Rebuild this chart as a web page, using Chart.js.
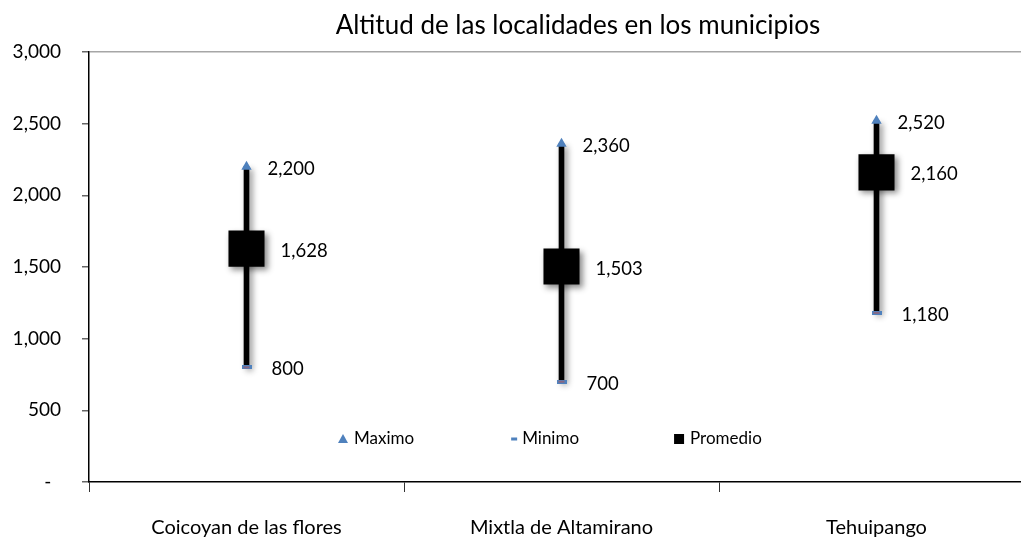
<!DOCTYPE html>
<html>
<head>
<meta charset="UTF-8">
<title>Altitud de las localidades en los municipios</title>
<script src="https://cdn.jsdelivr.net/npm/chart.js"></script>
<style>
  body { margin: 0; overflow: hidden; background: #fff; }
  canvas { display: block; }
</style>
</head>
<body>
<canvas id="altChart" width="1040" height="537"></canvas>
<script>
const municipios = ['Coicoyan de las flores', 'Mixtla de Altamirano', 'Tehuipango'];
const maximo = [2200, 2360, 2520];
const minimo = [800, 700, 1180];
const promedio = [1628, 1503, 2160];
const tituloTexto = 'Altitud de las localidades en los municipios';

const FONT = 'Lato, "Open Sans", sans-serif';
const BLUE = '#4F81BD';
const fmt = v => v.toLocaleString('en-US');

// little blue dash used as the "Minimo" marker
const dash = document.createElement('canvas');
dash.width = 10; dash.height = 4;
const dctx = dash.getContext('2d');
dctx.fillStyle = BLUE; dctx.fillRect(0, 0, 10, 4);
dctx.fillStyle = '#C0504D'; dctx.fillRect(2, 1.5, 6, 1);

const shadowPlugin = {
  id: 'shadow',
  beforeDatasetDraw(chart, args) {
    if (!chart.data.datasets[args.index].shadow) return;
    const ctx = chart.ctx;
    ctx.save();
    ctx.shadowColor = 'rgba(0,0,0,0.45)';
    ctx.shadowBlur = 6;
    ctx.shadowOffsetX = 3;
    ctx.shadowOffsetY = 3;
  },
  afterDatasetDraw(chart, args) {
    if (chart.data.datasets[args.index].shadow) chart.ctx.restore();
  }
};

const valueLabels = {
  id: 'valueLabels',
  afterDatasetsDraw(chart) {
    const ctx = chart.ctx;
    ctx.save();
    ctx.font = '18.5px ' + FONT;
    ctx.fillStyle = '#000';
    ctx.textAlign = 'left';
    ctx.textBaseline = 'middle';
    chart.data.datasets.forEach((ds, i) => {
      if (ds.labelOffset === undefined) return;
      chart.getDatasetMeta(i).data.forEach((pt, j) => {
        ctx.fillText(fmt(ds.data[j]), pt.x + ds.labelOffset, pt.y + 2);
      });
    });
    ctx.restore();
  }
};

const chartTitle = {
  id: 'chartTitle',
  afterDraw(chart) {
    const ctx = chart.ctx;
    ctx.save();
    ctx.font = '26px ' + FONT;
    ctx.fillStyle = '#000';
    ctx.textAlign = 'center';
    ctx.textBaseline = 'alphabetic';
    ctx.fillText(tituloTexto, 578, 34);
    ctx.restore();
  }
};

// legend sits inside the plot, near the bottom
const innerLegend = {
  id: 'innerLegend',
  afterDraw(chart) {
    const ctx = chart.ctx;
    const area = chart.chartArea;
    const y = chart.scales.y.getPixelForValue(300);
    let x = area.left + 254;
    ctx.save();
    ctx.font = '17px ' + FONT;
    ctx.textBaseline = 'middle';
    ctx.textAlign = 'left';
    chart.data.datasets.forEach(ds => {
      if (!ds.legendMarker) return;
      if (ds.legendMarker === 'triangle') {
        ctx.fillStyle = BLUE;
        ctx.beginPath();
        ctx.moveTo(x, y - 5); ctx.lineTo(x + 5, y + 4); ctx.lineTo(x - 5, y + 4);
        ctx.closePath(); ctx.fill();
        x += 11;
      } else if (ds.legendMarker === 'dash') {
        ctx.fillStyle = BLUE;
        ctx.fillRect(x - 3, y - 1.5, 6, 3);
        x += 8;
      } else {
        ctx.fillStyle = '#000';
        ctx.fillRect(x - 5, y - 5, 10, 10);
        x += 11;
      }
      ctx.fillStyle = '#000';
      ctx.fillText(ds.label, x, y);
      x += ctx.measureText(ds.label).width + 100;
    });
    ctx.restore();
  }
};

new Chart(document.getElementById('altChart'), {
  type: 'bar',
  data: {
    labels: municipios,
    datasets: [
      {
        type: 'line',
        label: 'Maximo',
        data: maximo,
        showLine: false,
        pointStyle: 'triangle',
        pointRadius: 6,
        pointBackgroundColor: BLUE,
        pointBorderColor: BLUE,
        pointBorderWidth: 0,
        labelOffset: 21,
        legendMarker: 'triangle',
        order: 1
      },
      {
        type: 'line',
        label: 'Minimo',
        data: minimo,
        showLine: false,
        pointStyle: dash,
        pointRadius: 5,
        labelOffset: 25,
        legendMarker: 'dash',
        order: 1
      },
      {
        type: 'line',
        label: 'Promedio',
        data: promedio,
        showLine: false,
        pointStyle: 'rect',
        pointRadius: 25.5,
        pointBackgroundColor: '#000',
        pointBorderColor: '#000',
        pointBorderWidth: 0,
        shadow: true,
        labelOffset: 34,
        legendMarker: 'square',
        order: 2
      },
      {
        type: 'bar',
        label: 'Rango',
        data: municipios.map((m, i) => [minimo[i], maximo[i]]),
        backgroundColor: '#000',
        barThickness: 5,
        shadow: true,
        order: 3
      }
    ]
  },
  options: {
    responsive: false,
    animation: false,
    // canvas is a bit wider than the page; the plot runs past the right edge
    layout: { autoPadding: false, padding: { top: 52, right: 6, left: 0, bottom: 0 } },
    plugins: {
      legend: { display: false },
      tooltip: { enabled: false }
    },
    scales: {
      x: {
        offset: true,
        grid: { offset: true, drawOnChartArea: false, tickLength: 10, tickColor: '#333' },
        border: { color: '#000', width: 1.5 },
        ticks: { font: { family: FONT, size: 20 }, color: '#000', padding: 24, maxRotation: 0 },
        afterFit(scale) {
          scale.height = 55;
          scale.paddingLeft = 0;
          scale.paddingRight = 0;
        }
      },
      y: {
        min: 0,
        max: 3000,
        grid: {
          color: ctx => ctx.tick && ctx.tick.value === 3000 ? '#a6a6a6' : 'rgba(0,0,0,0)',
          lineWidth: 1.5,
          tickLength: 7,
          tickColor: '#666'
        },
        border: { color: '#000', width: 1.5 },
        ticks: {
          stepSize: 500,
          font: { family: FONT, size: 19 },
          color: '#000',
          padding: 21,
          callback: v => v === 0 ? '-  ' : fmt(v)
        },
        afterFit(scale) { scale.width = 89; }
      }
    }
  },
  plugins: [shadowPlugin, valueLabels, chartTitle, innerLegend]
});
</script>
</body>
</html>
